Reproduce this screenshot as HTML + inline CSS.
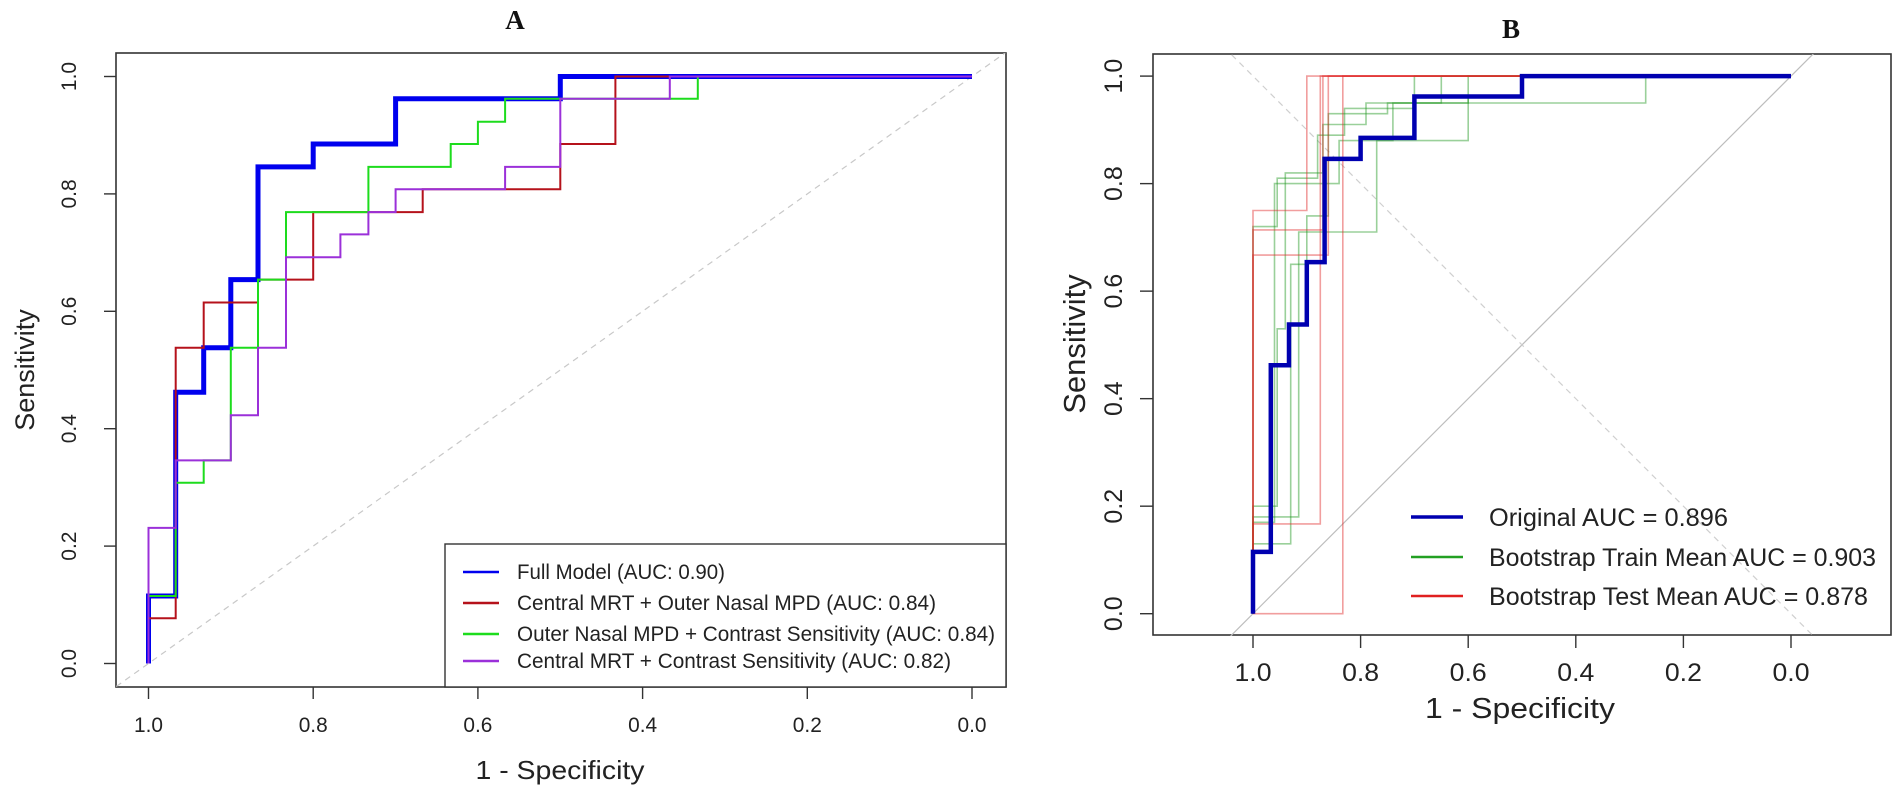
<!DOCTYPE html>
<html><head><meta charset="utf-8">
<style>
html,body{margin:0;padding:0;background:#fff;}
svg{display:block;}
text{font-family:"Liberation Sans",Arial,sans-serif;fill:#222;}
.ttl{font-family:"Liberation Serif",serif;font-weight:bold;fill:#111;}
</style></head>
<body>
<svg id="fig" width="1902" height="794" viewBox="0 0 1902 794" xmlns="http://www.w3.org/2000/svg">
<defs>
<clipPath id="clipA"><rect x="116" y="53" width="890" height="634"/></clipPath>
<clipPath id="clipB"><rect x="1153" y="54" width="736" height="582"/></clipPath>
</defs>
<g id="panelA"></g>
<g id="panelB"></g>
</svg>
<script>
// ---- Panel A data ----
const tickValues = [0, 0.2, 0.4, 0.6, 0.8, 1.0];
const tickLabels = ["0.0", "0.2", "0.4", "0.6", "0.8", "1.0"];
const fullSpec = [1,1,.967,.967,.933,.933,.9,.9,.867,.867,.8,.8,.7,.7,.5,.5,0];
const fullSens = [0,.115,.115,.462,.462,.538,.538,.654,.654,.846,.846,.885,.885,.962,.962,1,1];
const mrtMpdSpec = [1,1,.967,.967,.933,.933,.867,.867,.8,.8,.667,.667,.5,.5,.433,.433,0];
const mrtMpdSens = [0,.077,.077,.538,.538,.615,.615,.654,.654,.769,.769,.808,.808,.885,.885,1,1];
const mpdCsSpec = [1,1,.967,.967,.933,.933,.9,.9,.867,.867,.833,.833,.733,.733,.633,.633,.6,.6,.567,.567,.333,.333,0];
const mpdCsSens = [0,.115,.115,.308,.308,.346,.346,.538,.538,.654,.654,.769,.769,.846,.846,.885,.885,.923,.923,.962,.962,1,1];
const mrtCsSpec = [1,1,.967,.967,.9,.9,.867,.867,.833,.833,.767,.767,.733,.733,.7,.7,.567,.567,.5,.5,.367,.367,0];
const mrtCsSens = [0,.231,.231,.346,.346,.423,.423,.538,.538,.692,.692,.731,.731,.769,.769,.808,.808,.846,.846,.962,.962,1,1];
const legendALabels = ["Full Model (AUC: 0.90)","Central MRT + Outer Nasal MPD (AUC: 0.84)","Outer Nasal MPD + Contrast Sensitivity (AUC: 0.84)","Central MRT + Contrast Sensitivity (AUC: 0.82)"];

// ---- Panel B data ----
const origSpec = [1,1,.967,.967,.933,.933,.9,.9,.867,.867,.8,.8,.7,.7,.5,.5,0];
const origSens = [0,.115,.115,.462,.462,.538,.538,.654,.654,.846,.846,.885,.885,.962,.962,1,1];
const trainSpecs = [
 [1,1,.955,.955,.94,.94,.87,.87,.79,.79,.27,.27,0],
 [1,1,.93,.93,.9,.9,.86,.86,.75,.75,.6,.6,0],
 [1,1,.96,.96,.84,.84,.6,.6,.5,.5,0],
 [1,1,.915,.915,.77,.77,.74,.74,.65,.65,0],
 [1,1,.955,.955,.88,.88,.83,.83,.7,.7,0]
];
const trainSens = [
 [0,.2,.2,.53,.53,.82,.82,.91,.91,.95,.95,1,1],
 [0,.13,.13,.65,.65,.74,.74,.93,.93,.95,.95,1,1],
 [0,.17,.17,.8,.8,.88,.88,.96,.96,1,1],
 [0,.18,.18,.71,.71,.88,.88,.95,.95,1,1],
 [0,.72,.72,.81,.81,.89,.89,.94,.94,1,1]
];
const testSpecs = [
 [1,1,.9,.9,0],
 [1,1,.875,.875,0],
 [1,.833,.833,0],
 [1,1,.86,.86,0],
 [1,1,.87,.87,0]
];
const testSens = [
 [0,.75,.75,1,1],
 [0,.167,.167,1,1],
 [0,0,1,1],
 [0,.667,.667,1,1],
 [0,.714,.714,1,1]
];
const legendBLabels = ["Original AUC = 0.896","Bootstrap Train Mean AUC = 0.903","Bootstrap Test Mean AUC = 0.878"];

const NS = "http://www.w3.org/2000/svg";
function mk(tag, attrs, parent){
  const e = document.createElementNS(NS, tag);
  for (const k in attrs) e.setAttribute(k, attrs[k]);
  parent.appendChild(e); return e;
}
// axis functions
const xA = s => 148.5 + (1 - s) * 823.5;
const yA = v => 663.5 - v * 587;
const xB = s => 1253 + (1 - s) * 538;
const yB = v => 613.7 - v * 537.6;

function pathD(sx, sy, fx, fy){
  return sx.map((s,i)=>(i?"L":"M")+fx(s).toFixed(1)+","+fy(sy[i]).toFixed(1)).join(" ");
}

// ---------- Panel A ----------
const A = document.getElementById("panelA");
let r = mk("rect",{x:116,y:53,width:890,height:634,fill:"none",stroke:"#333","stroke-width":1.6},A);


let t = mk("text",{x:515,y:29,"text-anchor":"middle","font-size":27,class:"ttl"},A);
t.textContent="A";


tickValues.forEach((v,i)=>{
  let l = mk("line",{x1:104,x2:116,y1:yA(v),y2:yA(v),stroke:"#333","stroke-width":1.4},A);
  
  
  let tx = mk("text",{x:76,y:yA(v),"text-anchor":"middle","font-size":21,transform:`rotate(-90 76 ${yA(v)})`},A);
  tx.textContent = tickLabels[i];
  
  
  let l2 = mk("line",{x1:xA(v),x2:xA(v),y1:687,y2:699,stroke:"#333","stroke-width":1.4},A);
  
  
  let tx2 = mk("text",{x:xA(v),y:732,"text-anchor":"middle","font-size":21,textLength:29,lengthAdjust:"spacingAndGlyphs"},A);
  tx2.textContent = tickLabels[i];
  
  
});
t = mk("text",{x:34,y:370,"text-anchor":"middle","font-size":27,transform:"rotate(-90 34 370)"},A);
t.textContent="Sensitivity";


t = mk("text",{x:560,y:779,"text-anchor":"middle","font-size":26,textLength:169,lengthAdjust:"spacingAndGlyphs"},A);
t.textContent="1 - Specificity";


const gA = mk("g",{"clip-path":"url(#clipA)"},A);
let d = mk("line",{x1:xA(1.05),y1:yA(-0.05),x2:xA(-0.05),y2:yA(1.05),stroke:"#c8c8c8","stroke-width":1.2,"stroke-dasharray":"6,5"},gA);


const seriesA = [
  [fullSpec, fullSens, "#0000ee", 5, "full-model-curve"],
  [mrtMpdSpec, mrtMpdSens, "#b5121b", 2, "mrt-mpd-curve"],
  [mpdCsSpec, mpdCsSens, "#1ddc1d", 2, "mpd-cs-curve"],
  [mrtCsSpec, mrtCsSens, "#9b30d9", 2, "mrt-cs-curve"]
];
seriesA.forEach(s=>{
  let p = mk("path",{d:pathD(s[0],s[1],xA,yA),fill:"none",stroke:s[2],"stroke-width":s[3]},gA);
  
  
});
// legend A
let lg = mk("g",{},A);


mk("rect",{x:445,y:544,width:561,height:143,fill:"#fff",stroke:"#333","stroke-width":1.4},lg);
const legAY = [572,603,634,661];
const legALen = [208,419,478,434];
seriesA.forEach((s,i)=>{
  let ln = mk("line",{x1:463,x2:499,y1:legAY[i],y2:legAY[i],stroke:s[2],"stroke-width":2.4},lg);
  
  
  let tx = mk("text",{x:517,y:legAY[i]+7,"font-size":21,textLength:legALen[i],lengthAdjust:"spacingAndGlyphs"},lg);
  tx.textContent = legendALabels[i];
  
  
});

// ---------- Panel B ----------
const B = document.getElementById("panelB");
r = mk("rect",{x:1153,y:54,width:738,height:581,fill:"none",stroke:"#333","stroke-width":1.6},B);


t = mk("text",{x:1511,y:38,"text-anchor":"middle","font-size":27,class:"ttl"},B);
t.textContent="B";


tickValues.forEach((v,i)=>{
  let l = mk("line",{x1:1140,x2:1153,y1:yB(v),y2:yB(v),stroke:"#333","stroke-width":1.4},B);
  
  
  let tx = mk("text",{x:1122,y:yB(v),"text-anchor":"middle","font-size":25,transform:`rotate(-90 1122 ${yB(v)})`},B);
  tx.textContent = tickLabels[i];
  
  
  let l2 = mk("line",{x1:xB(v),x2:xB(v),y1:635,y2:648,stroke:"#333","stroke-width":1.4},B);
  
  
  let tx2 = mk("text",{x:xB(v),y:681,"text-anchor":"middle","font-size":25,textLength:37,lengthAdjust:"spacingAndGlyphs"},B);
  tx2.textContent = tickLabels[i];
  
  
});
t = mk("text",{x:1085,y:344,"text-anchor":"middle","font-size":31,transform:"rotate(-90 1085 344)"},B);
t.textContent="Sensitivity";


t = mk("text",{x:1520,y:718,"text-anchor":"middle","font-size":29,textLength:190,lengthAdjust:"spacingAndGlyphs"},B);
t.textContent="1 - Specificity";


const gB = mk("g",{"clip-path":"url(#clipB)"},B);
d = mk("line",{x1:xB(1.3),y1:yB(-0.3),x2:xB(-0.3),y2:yB(1.3),stroke:"#bdbdbd","stroke-width":1.2},gB);


d = mk("line",{x1:xB(1.3),y1:yB(1.3),x2:xB(-0.3),y2:yB(-0.3),stroke:"#cfcfcf","stroke-width":1.2,"stroke-dasharray":"6,5"},gB);


trainSpecs.forEach((sx,i)=>{
  let p = mk("path",{d:pathD(sx,trainSens[i],xB,yB),fill:"none",stroke:"rgba(30,150,30,0.45)","stroke-width":1.6},gB);
  
  
});
testSpecs.forEach((sx,i)=>{
  let p = mk("path",{d:pathD(sx,testSens[i],xB,yB),fill:"none",stroke:"rgba(225,40,40,0.45)","stroke-width":1.6},gB);
  
  
});
let po = mk("path",{d:pathD(origSpec,origSens,xB,yB),fill:"none",stroke:"#0000b0","stroke-width":4.5},gB);


// legend B
lg = mk("g",{},B);


const legBY = [517,557,596];
const legBColors = ["#0000b0","#22a022","#e02020"];
const legBW = [3.5,2.5,2.5];
const legBLen = [239,387,379];
legendBLabels.forEach((lab,i)=>{
  let ln = mk("line",{x1:1411,x2:1463,y1:legBY[i],y2:legBY[i],stroke:legBColors[i],"stroke-width":legBW[i]},lg);
  
  
  let tx = mk("text",{x:1489,y:legBY[i]+9,"font-size":25,textLength:legBLen[i],lengthAdjust:"spacingAndGlyphs"},lg);
  tx.textContent = lab;
  
  
});
</script>
</body></html>
